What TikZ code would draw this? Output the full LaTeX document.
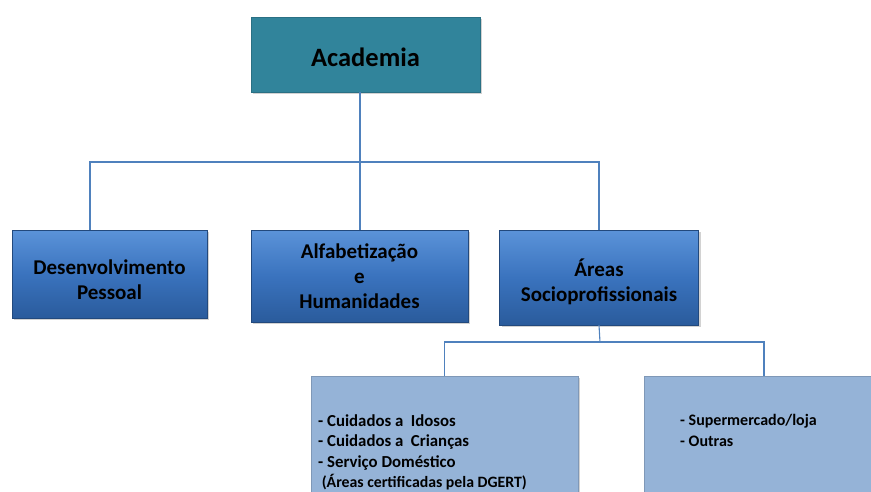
\documentclass[tikz,border=0pt]{standalone}
\usepackage{fontspec}
\setmainfont{Carlito}
\usetikzlibrary{shadows,calc}
\definecolor{tealbox}{HTML}{31849B}
\definecolor{bluetop}{HTML}{5B93D9}
\definecolor{bluemid}{HTML}{3A73BE}
\definecolor{bluebot}{HTML}{2A5B9C}
\definecolor{lightbox}{HTML}{95B3D7}
\definecolor{connblue}{HTML}{4F81BD}
\newcommand{\lowerby}[1]{\rule{0pt}{#1}}
\tikzset{
  boxbase/.style={inner sep=2pt, align=center, font=\bfseries,
    drop shadow={shadow xshift=2pt, shadow yshift=-2pt, opacity=0.35}},
  topbox/.style={boxbase, fill=tealbox, draw=tealbox!85!black, line width=0.4pt,
    font=\fontsize{26.5}{30}\selectfont\bfseries},
  midbox/.style={boxbase, top color=bluetop, bottom color=bluebot, middle color=bluemid,
    draw=bluebot!80!black, line width=0.4pt,
    font=\fontsize{21}{25}\selectfont\bfseries},
  lowbox/.style={boxbase, fill=lightbox, draw=lightbox!85!black, line width=0.4pt},
  listtext/.style={inner sep=0pt, anchor=north west, align=left,
    font=\fontsize{16.8}{20.5}\selectfont\bfseries},
  conn/.style={draw=connblue, line width=1.1pt}
}
\begin{document}
\begin{tikzpicture}[x=1pt,y=-1pt]
\useasboundingbox (0,0) rectangle (871,491);
\clip (0,0) rectangle (871,491);
\fill[white] (0,0) rectangle (871,491);

% nodes
\node[topbox, minimum width=229pt, minimum height=75pt] (acad) at (365.5,54.5) {\lowerby{25pt}Academia};
\node[midbox, minimum width=195pt, minimum height=88pt] (desen) at (109.5,274) {\lowerby{26pt}Desenvolvimento\\Pessoal};
\node[midbox, minimum width=217pt, minimum height=92pt] (alfa) at (359.5,276) {Alfabetização\\e\\Humanidades};
\node[midbox, minimum width=199pt, minimum height=95pt] (soc) at (599,277.5) {\lowerby{27pt}Áreas\\Socioprofissionais};
\node[lowbox, minimum width=267pt, minimum height=150pt] (cuid) at (444.5,451) {};
\node[lowbox, minimum width=240pt, minimum height=150pt] (outr) at (764,451) {};

\node[listtext] (cuidtxt) at (318,414.5) {- Cuidados a\ \ Idosos\\- Cuidados a\ \ Crianças\\- Serviço Doméstico\\{\fontsize{15.8}{18}\selectfont\ (Áreas certificadas pela DGERT)}};
\node[listtext, font=\fontsize{16}{20.5}\selectfont\bfseries] (outrtxt) at (680,414.5) {- Supermercado/loja\\- Outras};

% connectors
\coordinate (j1) at (360,162);
\coordinate (j2) at (600,342);
\draw[conn] (acad.south -| j1) -- (j1);
\draw[conn] ($(desen.north west)!0.4!(desen.north east)$) |- (j1);
\draw[conn] (j1) -| (soc.north);
\draw[conn] (j1) -- (alfa.north -| j1);
\draw[conn] (soc.south) -- (j2);
\draw[conn] (j2) -| (cuid.north);
\draw[conn] (j2) -| (outr.north);
\end{tikzpicture}
\end{document}
